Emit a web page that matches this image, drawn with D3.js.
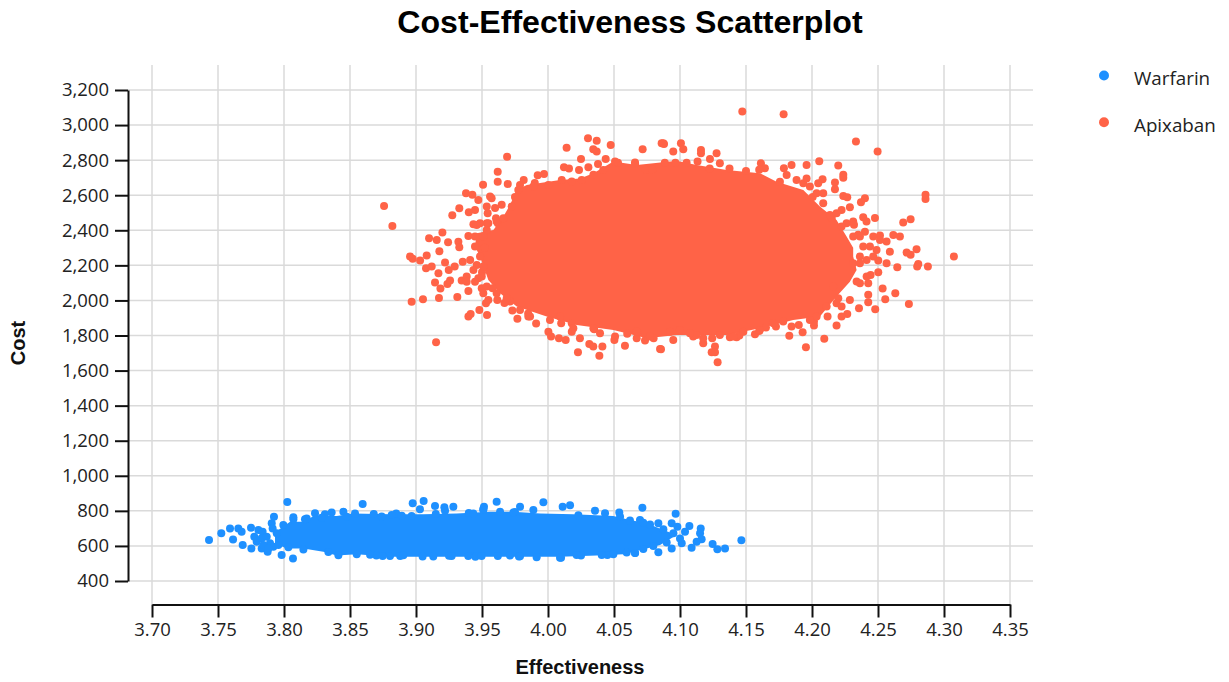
<!DOCTYPE html>
<html>
<head>
<meta charset="utf-8">
<title>Cost-Effectiveness Scatterplot</title>
<script src="https://cdnjs.cloudflare.com/ajax/libs/d3/7.8.5/d3.min.js"></script>
<style>
  html, body { margin: 0; padding: 0; background: #fff; }
  svg { display: block; }
  .grid line { stroke: #dadada; stroke-width: 1.5; }
  .axis path, .axis line { stroke: #111; stroke-width: 2; }
  .axis text { font-family: "Open Sans", "Noto Sans", sans-serif; font-size: 18.5px; fill: #222; }
  .title { font-family: "Liberation Sans", Arial, sans-serif; font-weight: bold; font-size: 32.1px; fill: #000; }
  .label { font-family: "Liberation Sans", Arial, sans-serif; font-weight: bold; font-size: 20px; fill: #111; }
  .legend { font-family: "Open Sans", "Noto Sans", sans-serif; font-size: 18.8px; fill: #222; }
</style>
</head>
<body>
<div id="chart"></div>
<script>
var xTicks = [3.70, 3.75, 3.80, 3.85, 3.90, 3.95, 4.00, 4.05, 4.10, 4.15, 4.20, 4.25, 4.30, 4.35];
var yTicks = [400, 600, 800, 1000, 1200, 1400, 1600, 1800, 2000, 2200, 2400, 2600, 2800, 3000, 3200];
var seriesNames = ['Warfarin', 'Apixaban'];
var seriesColors = ['#1e90ff', '#ff6347'];

// the middle of each cloud is solid ink, single points can't be read there,
// so it is kept as the outline of the solid part [effectiveness, cost]
var warfarinCore = [
  [3.7932,653],[3.7957,691],[3.8046,738],[3.8159,738],[3.8222,770],[3.8399,770],[3.8525,785],
  [3.8803,780],[3.9056,780],[3.9308,785],[3.9561,795],[3.9738,795],[3.994,785],[4.0192,780],
  [4.0495,770],[4.0621,748],[4.0748,729],[4.0874,691],[4.0975,662],[4.0849,605],[4.0748,586],
  [4.0571,552],[4.0369,545],[4.0091,538],[3.9914,538],[3.9738,538],[3.9485,538],[3.9308,538],
  [3.9056,538],[3.8803,538],[3.8551,552],[3.8399,545],[3.8298,567],[3.8147,586],[3.802,586],[3.7932,615]
];
var apixabanCore = [
  [3.9485,2250],[3.9447,2307],[3.946,2383],[3.9586,2402],[3.9662,2478],[3.9712,2544],[3.9763,2630],
  [3.9839,2658],[4.0091,2687],[4.0243,2696],[4.0344,2725],[4.0495,2792],[4.0672,2772],[4.0924,2792],
  [4.1,2792],[4.1126,2772],[4.1353,2744],[4.1606,2725],[4.1732,2677],[4.1934,2630],[4.206,2535],
  [4.2186,2459],[4.2262,2364],[4.2312,2300],[4.2312,2250],[4.2338,2174],[4.2287,2107],
  [4.2186,2022],[4.206,1908],[4.1858,1889],[4.1606,1841],[4.1353,1803],[4.1151,1803],[4.0974,1803],
  [4.0748,1785],[4.0495,1832],[4.0217,1860],[3.999,1908],[3.9763,1965],[3.9637,2041],[3.9548,2117]
];

// points that stand apart from the solid part
var warfarinPoints = [
  [3.7432,634],[3.7525,672],[3.7591,700],[3.7654,700],[3.7679,681],[3.7614,636],[3.7687,605],[3.7753,586],
  [3.775,704],[3.7806,691],[3.7838,681],[3.7775,653],[3.7876,567],[3.7982,548],[3.8068,528],[3.8025,851],
  [3.7924,767],[3.7907,729],[3.7914,700],[3.7831,586],[3.8596,839],[3.8975,843],[3.9058,856],[3.9144,828],
  [3.903,809],[3.8235,786],[3.8361,790],[3.831,780],[3.8159,752],[3.8071,752],[3.9283,824],[3.9515,824],
  [3.9215,820],[3.9611,852],[3.9965,849],[4.0111,824],[4.0167,832],[3.9788,824],[3.9889,805],[4.0715,818],
  [4.0967,784],[4.054,790],[4.0432,786],[4.0356,801],[4.0836,729],[4.0937,729],[4.098,710],[4.1071,714],
  [4.1038,681],[4.1157,700],[4.1152,672],[4.1164,638],[4.1126,624],[4.1013,615],[4.1088,590],[4.0937,586],
  [4.0836,564],[4.1247,611],[4.1283,581],[4.1341,586],[4.1465,632],[4.0697,748],[4.0091,533],[3.9914,535],
  [3.8551,552],[3.87,545],[3.888,542],[3.905,540],[3.925,544],[3.945,539],[3.962,543],[3.978,540],
  [4.025,545],[4.045,548],[4.066,560],[3.845,795],[3.868,782],[3.885,785],[3.915,782],[3.94,788],[3.975,794],
  [3.7793,624],[3.7831,644],[3.7869,653],[3.7894,615],[3.7844,605],[3.7919,596],[3.7881,586],[3.7957,605],
  [3.7945,672],[3.7995,719],[3.8071,763],[3.8172,757],[3.8285,760],[3.8475,766],[3.8538,785],[3.874,768],
  [3.8816,776],[3.8892,772],[3.8967,770],[3.922,800],[3.9434,785],[3.951,810],[3.8412,547],[3.8652,549],
  [3.8747,543],[3.8803,543],[3.8904,547],[3.9131,540],[3.927,543],[3.9396,543],[3.9497,543],[3.8336,566],
  [3.8147,580],[3.8033,592],[3.9712,545],[3.9788,541],[4.0099,533],[4.0217,548],[4.0407,548],[4.0495,552],
  [4.0596,563],[4.0659,560],[4.0722,582],[4.0798,600],[4.0899,620],[4.1,643],[4.095,672],[4.0874,695],
  [4.0773,722],[4.0722,732],[4.0621,745],[4.0546,766],[4.023,775],[3.9738,790],[3.9637,795],[3.951,805]
];
var apixabanPoints = [
  [3.8758,2538],[3.8821,2425],[3.9152,1761],[3.8967,1992],[3.9053,2007],[3.9174,2014],[3.9313,2020],
  [3.8955,2250],[3.8975,2237],[3.9031,2227],[3.9081,2256],[3.9099,2355],[3.9157,2345],[3.92,2387],
  [3.9243,2332],[3.9177,2280],[3.9275,2486],[3.9328,2525],[3.9379,2611],[3.9427,2603],[3.9508,2660],
  [3.9619,2734],[3.9619,2677],[3.9695,2664],[3.969,2820],[3.9472,2573],[3.9561,2592],[3.9573,2583],
  [3.9649,2546],[3.9599,2527],[3.9536,2535],[3.9447,2516],[3.94,2503],[3.9543,2497],[3.9606,2468],
  [3.9435,2434],[3.9536,2440],[3.9397,2368],[3.9321,2335],[3.9328,2303],[3.922,2216],[3.9076,2183],
  [3.9119,2193],[3.917,2155],[3.9144,2102],[3.9185,2068],[3.9238,2094],[3.9258,2113],[3.9248,2174],
  [3.9293,2193],[3.9354,2221],[3.941,2231],[3.946,2202],[3.9346,2113],[3.9384,2136],[3.9472,2127],
  [3.9397,2054],[3.9498,2069],[3.953,1984],[3.9616,2003],[3.948,1946],[3.9538,1917],[3.9397,1908],
  [3.9414,1923],[3.9712,1994],[3.973,1942],[3.9768,1895],[3.9851,1908],[3.991,1868],[4.0003,1822],
  [4.0023,1794],[4.0083,1785],[4.0134,1775],[4.018,1822],[4.0242,1785],[4.0227,1705],[4.0313,1752],
  [4.0343,1737],[4.0412,1737],[4.0389,1684],[4.0503,1775],[4.0583,1741],[4.0672,1785],[4.0735,1771],
  [4.0849,1723],[4.0303,2925],[4.0369,2911],[4.0475,2886],[4.0141,2871],[4.0369,2849],[4.0343,2862],
  [4.0437,2807],[4.025,2807],[4.0717,2862],[4.0861,2896],[4.0879,2892],[4.0121,2759],[4.0159,2752],
  [4.0235,2744],[4.0306,2759],[4.0379,2778],[3.9922,2714],[3.997,2721],[3.9816,2687],
  [4.1472,3077],[4.1785,3061],[4.2333,2906],[4.2497,2849],[4.0873,2896],[4.1007,2896],[4.1025,2862],
  [4.0949,2849],[4.1159,2858],[4.1159,2839],[4.1277,2839],[4.1227,2807],[4.1302,2782],[4.1133,2792],
  [4.1613,2782],[4.1643,2754],[4.1845,2773],[4.1787,2754],[4.1959,2773],[4.2055,2793],[4.2199,2769],
  [4.2237,2716],[4.2237,2700],[4.208,2691],[4.2047,2668],[4.2174,2672],[4.2174,2634],[4.2237,2596],
  [4.2267,2588],[4.2401,2583],[4.2371,2560],[4.286,2602],[4.286,2579],[4.2287,2531],[4.2224,2516],
  [4.2747,2463],[4.2691,2444],[4.2477,2470],[4.2388,2474],[4.2413,2450],[4.2312,2450],[4.2318,2431],
  [4.2666,2364],[4.2616,2373],[4.2515,2370],[4.2565,2336],[4.2401,2392],[4.2792,2292],[4.2717,2273],
  [4.2747,2261],[4.3075,2250],[4.2805,2208],[4.2797,2193],[4.2878,2193],[4.2646,2189],[4.259,2278],
  [4.2489,2288],[4.2565,2212],[4.2502,2227],[4.2502,2161],[4.2444,2145],[4.2338,2108],[4.2426,2098],
  [4.2535,2068],[4.2631,2041],[4.2555,2007],[4.2734,1980],[4.2426,2032],[4.2426,1990],[4.2479,1950],
  [4.2356,1956],[4.2287,2003],[4.2267,1923],[4.2224,1908],[4.2118,1908],[4.2186,1857],[4.2015,1857],
  [4.1929,1819],[4.1828,1798],[4.2093,1781],[4.1954,1733],[4.1727,1851],[4.1651,1845],[4.1244,1785],
  [4.1176,1756],[4.1265,1737],[4.124,1705],[4.1265,1705],[4.1285,1648],[4.0949,1775],[4.0856,1722],
  [4.1568,1807],[4.1429,1790],[4.1378,1790],
  [4.053,2785],[4.066,2780],[4.074,2745],[4.079,2745],[4.0885,2785],[4.0965,2785],[4.105,2785],
  [4.1225,2752],[4.1375,2752],[4.15,2738],[4.16,2745],[4.2005,2590],[4.215,2470],[4.235,2375],
  [4.2015,1880],[4.19,1860],[4.16,1825],[4.145,1800],[4.11,1795],[4.08,1785],[4.06,1810],[4.035,1835],
  [4.01,1870],[3.985,1925],[3.967,1985],[3.958,2070],[3.95,2160],[3.952,2300],[3.962,2440],[3.975,2590],[3.99,2670],
  [4.2363,2364],[4.2464,2364],[4.2439,2307],[4.2363,2250],[4.2414,2231],[4.2464,2250],[4.2515,2345],[4.2388,2307],
  [4.2312,2364],[4.2262,2440],[4.2224,2421],[4.2186,2497],[4.2136,2487],[4.2085,2554],[4.2085,2611],[4.2035,2611],
  [4.1984,2649],[4.1934,2668],[4.1883,2687],[4.1959,2696],[4.1808,2715],[4.1757,2677],[4.2312,2212],[4.2363,2212],
  [4.2363,2098],[4.2414,2136],[4.2199,2012],[4.2186,1984],[4.2224,1965],[4.2161,2079],[4.2111,1965],[4.2035,1908],
  [4.1984,1889],[4.1845,1851],[4.1782,1880],[4.1707,1870],[4.1606,1832],[4.148,1822],[4.1404,1794],[4.1176,1785],
  [4.1126,1803],[4.0999,1832],[4.1075,1813],[4.1302,1803],
  [3.946,2430],[3.9447,2364],[3.9447,2307],[3.9485,2440],[3.9548,2440],[3.9611,2450],[3.9662,2469],[3.9725,2535],
  [3.9775,2630],[3.9788,2658],[3.9889,2649],[4.0003,2658],[4.0104,2687],[4.018,2678],[4.0255,2687],[4.0344,2716],
  [4.0419,2744],[4.0508,2792],[4.0659,2786],[3.9485,2250],[3.951,2193],[3.9435,2174],[3.9498,2136],[3.9384,2107],
  [3.9447,2107],[3.9536,2079],[3.951,2041],[3.9548,2003],[3.9611,2041],[3.9687,2012],[3.9788,1946],[3.9864,1908],
  [4.0015,1889],[4.0091,1908],[4.018,1870],[4.0192,1842],[4.0344,1842],[4.0394,1813],[4.0508,1794],[4.0672,1823],
  [4.0773,1794],[4.0924,1822],[3.9536,2402],[3.951,2364]
];

var width = 1229, height = 682;

var x = d3.scaleLinear().domain([3.70, 4.35]).range([152, 1010]);
var y = d3.scaleLinear().domain([400, 3200]).range([581, 90]);

var svg = d3.select('#chart').append('svg')
    .attr('width', width)
    .attr('height', height);

// grid
var grid = svg.append('g').attr('class', 'grid');
grid.selectAll('.v').data(xTicks).enter().append('line')
    .attr('x1', function(d) { return x(d); })
    .attr('x2', function(d) { return x(d); })
    .attr('y1', 65)
    .attr('y2', 604);
grid.selectAll('.h').data(yTicks).enter().append('line')
    .attr('x1', 128)
    .attr('x2', 1033)
    .attr('y1', function(d) { return y(d); })
    .attr('y2', function(d) { return y(d); });

// axes
svg.append('g')
    .attr('class', 'axis')
    .attr('transform', 'translate(128,0)')
    .call(d3.axisLeft(y).tickValues(yTicks).tickSize(13).tickSizeOuter(0).tickPadding(6).tickFormat(d3.format(',')));
svg.append('g')
    .attr('class', 'axis')
    .attr('transform', 'translate(0,604.5)')
    .call(d3.axisBottom(x).tickValues(xTicks).tickSize(13).tickSizeOuter(0).tickPadding(5).tickFormat(d3.format('.2f')));

// clouds
var outline = d3.line()
    .x(function(d) { return x(d[0]); })
    .y(function(d) { return y(d[1]); })
    .curve(d3.curveLinearClosed);

function drawCloud(core, points, color) {
  var g = svg.append('g');
  g.append('path').attr('d', outline(core)).attr('fill', color);
  g.selectAll('circle').data(points).enter().append('circle')
      .attr('cx', function(d) { return x(d[0]); })
      .attr('cy', function(d) { return y(d[1]); })
      .attr('r', 4)
      .attr('fill', color);
}
drawCloud(warfarinCore, warfarinPoints, seriesColors[0]);
drawCloud(apixabanCore, apixabanPoints, seriesColors[1]);

// titles
svg.append('text').attr('class', 'title')
    .attr('x', 630).attr('y', 33)
    .attr('text-anchor', 'middle')
    .text('Cost-Effectiveness Scatterplot');
svg.append('text').attr('class', 'label')
    .attr('x', 580).attr('y', 674)
    .attr('text-anchor', 'middle')
    .text('Effectiveness');
svg.append('text').attr('class', 'label')
    .attr('transform', 'translate(25,343) rotate(-90)')
    .attr('text-anchor', 'middle')
    .text('Cost');

// legend
var legend = svg.selectAll('.item').data(seriesNames).enter().append('g')
    .attr('transform', function(d, i) { return 'translate(1104,' + (75.5 + i * 46.7) + ')'; });
legend.append('circle')
    .attr('r', 5)
    .attr('fill', function(d, i) { return seriesColors[i]; });
legend.append('text')
    .attr('class', 'legend')
    .attr('x', 30)
    .attr('y', 9.5)
    .text(function(d) { return d; });
</script>
</body>
</html>
